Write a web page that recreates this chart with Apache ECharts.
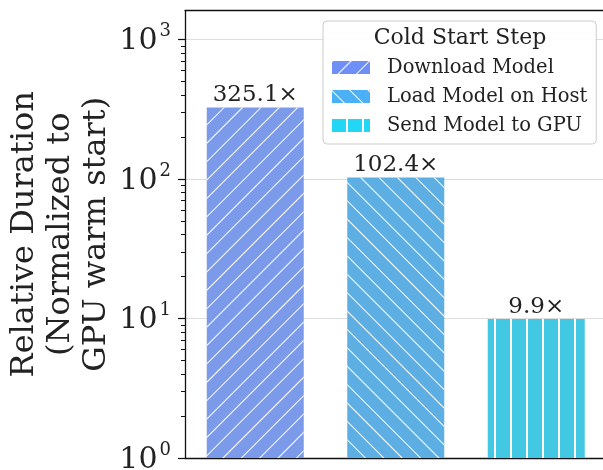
<!DOCTYPE html>
<html>
<head>
<meta charset="utf-8">
<script src="https://cdn.jsdelivr.net/npm/echarts@6/dist/echarts.min.js"></script>
<style>html,body{margin:0;padding:0;background:#fff}#c{width:603px;height:470px}</style>
</head>
<body>
<div id="c"></div>
<script>
const categories = ['Download Model', 'Load Model on Host', 'Send Model to GPU'];
const values = [325.1, 102.4, 9.9];
const majorTicks = [1, 10, 100, 1000];
const minorTicks = [2,3,4,5,6,7,8,9,20,30,40,50,60,70,80,90,200,300,400,500,600,700,800,900];
const legendTitle = 'Cold Start Step';
const yName = 'Relative Duration\n(Normalized to\nGPU warm start)';

const barColors = ['#7b9ae9', '#5caee3', '#42c8e2'];
const legendColors = ['#6f8ef7', '#4bb0f6', '#24d6f6'];
const decals = [
  {symbol: 'rect', symbolSize: 1, dashArrayX: [1, 0], dashArrayY: [1, 11.7], rotation: -Math.PI / 4, color: '#ffffff'},
  {symbol: 'rect', symbolSize: 1, dashArrayX: [1, 0], dashArrayY: [1, 11.7], rotation: Math.PI / 4, color: '#ffffff'},
  {symbol: 'rect', symbolSize: 1, dashArrayX: [1, 0], dashArrayY: [1.4, 13.6], rotation: Math.PI / 2, color: '#ffffff'}
];
const FONT = 'DejaVu Serif';
const chart = echarts.init(document.getElementById('c'), null, {renderer: 'canvas'});

const series = categories.map((name, i) => ({
  name: name,
  type: 'bar',
  xAxisIndex: 0,
  yAxisIndex: 0,
  barWidth: 97,
  barGap: '-100%',
  data: categories.map((c, j) => (j === i ? values[i] : '-')),
  itemStyle: {color: barColors[i], decal: decals[i]},
  label: {
    show: true, position: 'top', distance: 1,
    fontFamily: FONT, fontSize: 23, color: '#222',
    formatter: p => p.value.toFixed(1) + '×'
  },
  emphasis: {disabled: true}
}));

chart.setOption({
  animation: false,
  aria: {enabled: false},
  grid: {left: 185, right: -3.5, top: 10.7, bottom: 12, containLabel: false, outerBoundsMode: 'none'},
  title: {
    text: legendTitle, left: 460, top: 25, textAlign: 'center', padding: 0,
    textStyle: {fontFamily: FONT, fontSize: 22, lineHeight: 26, fontWeight: 'normal', color: '#222'}
  },
  legend: {
    orient: 'vertical', left: 323, top: 21,
    padding: [34.5, 9, 6.5, 9],
    itemWidth: 38, itemHeight: 13, itemGap: 5,
    backgroundColor: 'rgba(255,255,255,0.9)', borderColor: '#cccccc', borderWidth: 1, borderRadius: 4,
    textStyle: {fontFamily: FONT, fontSize: 19.5, lineHeight: 24, color: '#222', padding: [0, 0, 0, 12]},
    selectedMode: false,
    data: categories.map((c, i) => ({name: c, icon: 'rect', itemStyle: {color: legendColors[i], decal: decals[i]}}))
  },
  xAxis: [
    {type: 'category', data: categories, position: 'bottom',
     axisLine: {show: true, lineStyle: {color: '#111', width: 1.3}},
     axisTick: {show: false}, axisLabel: {show: false}, splitLine: {show: false}},
    {type: 'category', data: categories, position: 'top',
     axisLine: {show: true, lineStyle: {color: '#111', width: 1.3}},
     axisTick: {show: false}, axisLabel: {show: false}, splitLine: {show: false}}
  ],
  yAxis: [
    {type: 'log', logBase: 10, min: 1, max: 1607, position: 'left',
     name: yName, nameLocation: 'middle', nameRotate: 90, nameGap: 70, nameMoveOverlap: false,
     nameTextStyle: {fontFamily: FONT, fontSize: 32, lineHeight: 36, color: '#222', align: 'center'},
     axisLine: {show: true, lineStyle: {color: '#111', width: 1.3}},
     axisTick: {show: true, length: 7, customValues: majorTicks, lineStyle: {color: '#111', width: 1.2}},
     axisLabel: {
       show: true, customValues: majorTicks, margin: 14,
       formatter: v => '{b|10}{s|' + Math.round(Math.log10(v)) + '}',
       rich: {
         b: {fontFamily: FONT, fontSize: 30, lineHeight: 34, color: '#222', verticalAlign: 'bottom'},
         s: {fontFamily: FONT, fontSize: 18, lineHeight: 28, color: '#222', verticalAlign: 'top', padding: [0, 0, 0, 2]}
       }
     },
     splitLine: {show: true, lineStyle: {color: '#dddddd', width: 1}}
    },
    {type: 'log', logBase: 10, min: 1, max: 1607, position: 'left',
     axisLine: {show: false},
     axisTick: {show: true, length: 4, customValues: minorTicks, lineStyle: {color: '#111', width: 1}},
     axisLabel: {show: false}, splitLine: {show: false}
    }
  ],
  series: series
});
</script>
</body>
</html>
